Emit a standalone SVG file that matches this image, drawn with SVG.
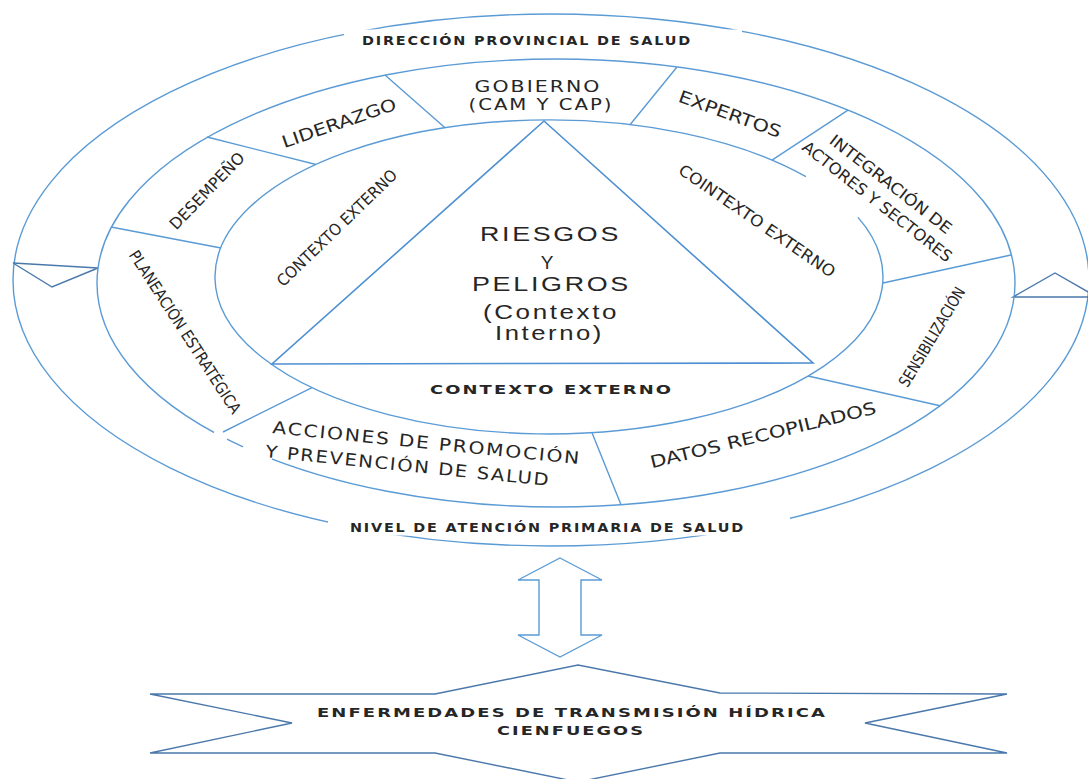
<svg xmlns="http://www.w3.org/2000/svg" width="1088" height="779" viewBox="0 0 1088 779">
<style>
.ln{fill:none;stroke:#5b9bd5;stroke-width:1.4}
.dk{fill:none;stroke:#4a78ab;stroke-width:1.4}
.tri{fill:none;stroke:#4f90d2;stroke-width:1.6}
.cut{fill:#fff;stroke:none}
.cutl{fill:none;stroke:#fff;stroke-width:4}
.t{fill:#262626}
.g{font-family:"DejaVu Sans","Liberation Sans",sans-serif;letter-spacing:1.5px}
.b{font-weight:bold}
.n{font-family:"Liberation Sans Narrow","DejaVu Sans Condensed","Liberation Sans",sans-serif}
.a{font-family:"Liberation Sans",Arial,sans-serif;letter-spacing:2px}
</style>
<rect width="1088" height="779" fill="#fff"/>

<g id="outer-ring">
  <ellipse class="ln" cx="551" cy="280" rx="538" ry="266"/>
  <rect class="cut" x="344" y="29.5" width="398" height="22"/>
  <rect class="cut" x="328" y="509" width="462" height="26.5"/>
  <polygon class="dk" points="13,263 98,268 52,287"/>
  <polygon class="dk" points="1013,297 1055,273 1097,297"/>
</g>

<g id="middle-ring">
  <ellipse class="ln" cx="556" cy="283" rx="459" ry="224"/>
  <line class="cutl" x1="214" y1="432.4" x2="227" y2="439.2"/>
  <line class="cutl" x1="243" y1="446.8" x2="272" y2="459"/>
  <path class="ln" d="M111,227 L221,248 M207,137 L316,164.5 M385,75 L445,127.8 M677,67 L630,124.7 M848,110.2 L772,160.1 M1011,255 L883,283 M940,405.7 L808,376 M621,504.8 L592,432.7 M223,432 L312,387.6"/>
</g>

<g id="inner-circle">
  <path class="ln" d="M858,217.4 A334,157 0 1 1 806,176.7"/>
</g>

<g id="core-triangle">
  <polygon class="tri" points="544,121 272,364 813,363"/>
  <text class="t a" x="550.5" y="241" font-size="20" text-anchor="middle" textLength="141" lengthAdjust="spacingAndGlyphs">RIESGOS</text>
  <text class="t a" x="548" y="268.5" font-size="19" text-anchor="middle" letter-spacing="0">Y</text>
  <text class="t a" x="551.5" y="290.5" font-size="20" text-anchor="middle" textLength="159" lengthAdjust="spacingAndGlyphs">PELIGROS</text>
  <text class="t a" x="551" y="319" font-size="20" text-anchor="middle" textLength="136" lengthAdjust="spacingAndGlyphs">(Contexto</text>
  <text class="t a" x="549.5" y="340" font-size="20" text-anchor="middle" textLength="109" lengthAdjust="spacingAndGlyphs">Interno)</text>
</g>

<g id="lbl-direccion">
  <text class="t g b" x="527" y="45" font-size="12" text-anchor="middle" textLength="330" lengthAdjust="spacingAndGlyphs">DIRECCIÓN PROVINCIAL DE SALUD</text>
</g>
<g id="lbl-nivel">
  <text class="t g b" x="547.5" y="532" font-size="12" text-anchor="middle" textLength="395" lengthAdjust="spacingAndGlyphs">NIVEL DE ATENCIÓN PRIMARIA DE SALUD</text>
</g>

<g id="seg-gobierno">
  <text class="t g" x="538" y="92" font-size="15" text-anchor="middle" textLength="127" lengthAdjust="spacingAndGlyphs">GOBIERNO</text>
  <text class="t g" x="541" y="110" font-size="15" text-anchor="middle" textLength="145" lengthAdjust="spacingAndGlyphs">(CAM Y CAP)</text>
</g>
<g id="seg-liderazgo" transform="translate(339,123) rotate(-19)">
  <text class="t n" font-size="17" text-anchor="middle" dominant-baseline="central" textLength="120" lengthAdjust="spacingAndGlyphs">LIDERAZGO</text>
</g>
<g id="seg-desempeno" transform="translate(207,191) rotate(-46)">
  <text class="t n" font-size="16" text-anchor="middle" dominant-baseline="central" textLength="100" lengthAdjust="spacingAndGlyphs">DESEMPEÑO</text>
</g>
<g id="seg-planeacion" transform="translate(185,332) rotate(57)">
  <text class="t n" font-size="16" text-anchor="middle" dominant-baseline="central" textLength="191" lengthAdjust="spacingAndGlyphs">PLANEACIÓN ESTRATÉGICA</text>
</g>
<g id="seg-acciones">
  <text class="t g" font-size="17" transform="translate(272,433) rotate(5.8)" textLength="310" lengthAdjust="spacingAndGlyphs">ACCIONES DE PROMOCIÓN</text>
  <text class="t g" font-size="17" transform="translate(265,457) rotate(5.8)" textLength="286" lengthAdjust="spacingAndGlyphs">Y PREVENCIÓN DE SALUD</text>
</g>
<g id="seg-datos" transform="translate(763,435) rotate(-13.7)">
  <text class="t n" font-size="17" text-anchor="middle" dominant-baseline="central" textLength="232" lengthAdjust="spacingAndGlyphs">DATOS RECOPILADOS</text>
</g>
<g id="seg-sensibilizacion" transform="translate(932,337) rotate(-59)">
  <text class="t n" font-size="16" text-anchor="middle" dominant-baseline="central" textLength="113" lengthAdjust="spacingAndGlyphs">SENSIBILIZACIÓN</text>
</g>
<g id="seg-integracion" transform="translate(884,193) rotate(38)">
  <text class="t n" font-size="16" text-anchor="middle" dominant-baseline="central" y="-11" textLength="150" lengthAdjust="spacingAndGlyphs">INTEGRACIÓN DE</text>
  <text class="t n" font-size="16" text-anchor="middle" dominant-baseline="central" y="11" textLength="185" lengthAdjust="spacingAndGlyphs">ACTORES Y SECTORES</text>
</g>
<g id="seg-expertos" transform="translate(730,114) rotate(20)">
  <text class="t n" font-size="17" text-anchor="middle" dominant-baseline="central" textLength="108" lengthAdjust="spacingAndGlyphs">EXPERTOS</text>
</g>

<g id="ctx-left" transform="translate(337,228) rotate(-44)">
  <text class="t n" font-size="16" text-anchor="middle" dominant-baseline="central" textLength="160" lengthAdjust="spacingAndGlyphs">CONTEXTO EXTERNO</text>
</g>
<g id="ctx-right" transform="translate(757,221) rotate(34.5)">
  <text class="t n" font-size="16" text-anchor="middle" dominant-baseline="central" textLength="186" lengthAdjust="spacingAndGlyphs">COINTEXTO EXTERNO</text>
</g>
<g id="ctx-bottom">
  <text class="t g b" x="551.5" y="394" font-size="13" text-anchor="middle" textLength="243" lengthAdjust="spacingAndGlyphs">CONTEXTO EXTERNO</text>
</g>

<g id="connectors">
  <polygon class="ln" points="560,558 602,580 581,580 581,635 602,635 560,657 518,635 539,635 539,580 518,580"/>
</g>

<g id="enfermedades">
  <polygon class="dk" points="150,694 435,694 578,665 720,693 1007,694 865,723 1007,753 720,753 578,782 435,753 150,753 292,723"/>
  <text class="t g b" x="572" y="717" font-size="13" text-anchor="middle" textLength="510" lengthAdjust="spacingAndGlyphs">ENFERMEDADES DE TRANSMISIÓN HÍDRICA</text>
  <text class="t g b" x="571" y="735" font-size="13" text-anchor="middle" textLength="148" lengthAdjust="spacingAndGlyphs">CIENFUEGOS</text>
</g>
</svg>
